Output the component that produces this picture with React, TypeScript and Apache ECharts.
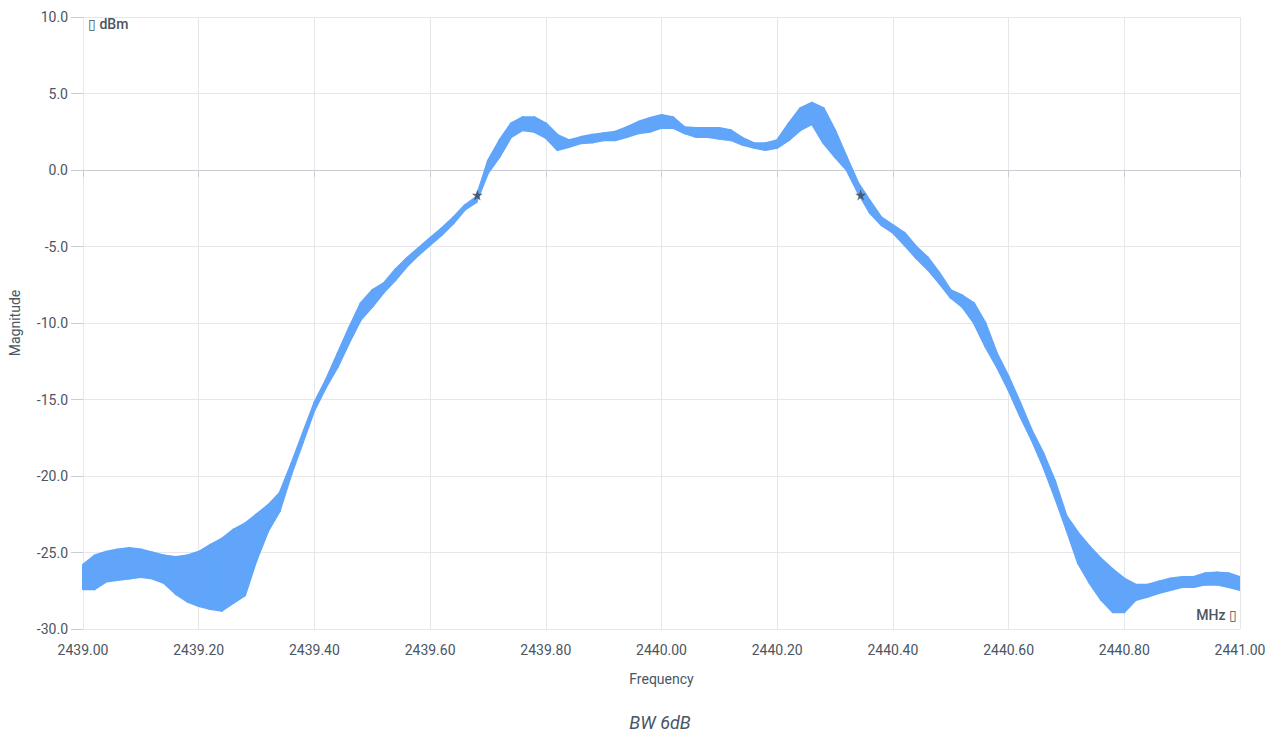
import React, { useEffect, useRef } from "react";
import * as echarts from "echarts";

// Frequency samples (MHz)
const freqs: number[] = [
  2439.0, 2439.02, 2439.04, 2439.06, 2439.08, 2439.1, 2439.12, 2439.14, 2439.16, 2439.18,
  2439.2, 2439.22, 2439.24, 2439.26, 2439.28, 2439.3, 2439.32, 2439.34, 2439.36, 2439.38,
  2439.4, 2439.42, 2439.44, 2439.46, 2439.48, 2439.5, 2439.52, 2439.54, 2439.56, 2439.58,
  2439.6, 2439.62, 2439.64, 2439.66, 2439.68, 2439.7, 2439.72, 2439.74, 2439.76, 2439.78,
  2439.8, 2439.82, 2439.84, 2439.86, 2439.88, 2439.9, 2439.92, 2439.94, 2439.96, 2439.98,
  2440.0, 2440.02, 2440.04, 2440.06, 2440.08, 2440.1, 2440.12, 2440.14, 2440.16, 2440.18,
  2440.2, 2440.22, 2440.24, 2440.26, 2440.28, 2440.3, 2440.32, 2440.34, 2440.36, 2440.38,
  2440.4, 2440.42, 2440.44, 2440.46, 2440.48, 2440.5, 2440.52, 2440.54, 2440.56, 2440.58,
  2440.6, 2440.62, 2440.64, 2440.66, 2440.68, 2440.7, 2440.72, 2440.74, 2440.76, 2440.78,
  2440.8, 2440.82, 2440.84, 2440.86, 2440.88, 2440.9, 2440.92, 2440.94, 2440.96, 2440.98,
  2441.0,
];

// Upper envelope of the measured trace (dBm)
const upper: number[] = [
  -25.8, -25.2, -24.95, -24.8, -24.7, -24.8, -25.0, -25.2, -25.3, -25.2,
  -24.95, -24.5, -24.1, -23.5, -23.1, -22.5, -21.9, -21.1, -19.2, -17.2,
  -15.2, -13.7, -12.0, -10.3, -8.7, -7.85, -7.4, -6.5, -5.75, -5.1,
  -4.45, -3.8, -3.1, -2.3, -1.75, 0.6, 1.95, 3.05, 3.45, 3.45,
  3.05, 2.3, 1.95, 2.15, 2.3, 2.4, 2.5, 2.8, 3.15, 3.4,
  3.6, 3.45, 2.8, 2.75, 2.75, 2.75, 2.6, 2.1, 1.75, 1.75,
  1.95, 3.05, 4.05, 4.4, 4.05, 2.6, 0.85, -0.85, -2.0, -3.1,
  -3.6, -4.1, -5.0, -5.7, -6.7, -7.85, -8.2, -8.7, -10.0, -12.0,
  -13.5, -15.2, -17.0, -18.5, -20.3, -22.6, -23.7, -24.6, -25.4, -26.1,
  -26.7, -27.1, -27.1, -26.9, -26.7, -26.6, -26.6, -26.35, -26.3, -26.35,
  -26.6,
];

// Lower envelope of the measured trace (dBm)
const lower: number[] = [
  -27.4, -27.4, -26.9, -26.8, -26.7, -26.6, -26.7, -27.0, -27.7, -28.2,
  -28.5, -28.7, -28.8, -28.3, -27.8, -25.5, -23.6, -22.3, -19.9, -17.8,
  -15.7, -14.2, -12.9, -11.3, -9.8, -8.95, -8.0, -7.2, -6.3, -5.55,
  -4.9, -4.25, -3.5, -2.6, -2.1, -0.2, 0.85, 2.15, 2.6, 2.5,
  2.1, 1.3, 1.5, 1.75, 1.8, 1.95, 1.95, 2.15, 2.4, 2.5,
  2.75, 2.75, 2.4, 2.15, 2.15, 2.05, 1.95, 1.65, 1.45, 1.3,
  1.45, 1.95, 2.6, 3.0, 1.75, 0.85, 0.0, -1.5, -2.8, -3.6,
  -4.1, -4.9, -5.75, -6.5, -7.4, -8.35, -8.95, -10.0, -11.55, -12.9,
  -14.4, -16.1, -17.65, -19.4, -21.4, -23.5, -25.7, -27.0, -28.1, -28.9,
  -28.9, -28.1, -27.9, -27.65, -27.45, -27.25, -27.25, -27.1, -27.1, -27.25,
  -27.45,
];

// -6 dB bandwidth markers
const markerFreqs: number[] = [2439.6816, 2440.3443];
const markerLevels: number[] = [-1.63, -1.63];

const yMin = -30;
const yMax = 10;
const yStep = 5;
const xMin = 2439;
const xMax = 2441;
const xStep = 0.2;

const BLUE = "#60a5fa";
const TEXT = "#4b5563";
const FONT = "Roboto";
const STAR =
  "path://M50,0 L61,35 L98,35 L68,57 L79,91 L50,70 L21,91 L32,57 L2,35 L39,35 Z";

export default function App() {
  const ref = useRef<HTMLDivElement>(null);

  useEffect(() => {
    document.body.style.margin = "0";
    if (!ref.current) return;
    const chart = echarts.init(ref.current, undefined, { renderer: "svg" });

    const bandData = freqs.map((f, i) => [f, lower[i], upper[i]]);
    const markers = markerFreqs.map((f, i) => [f, markerLevels[i]]);

    chart.setOption({
      animation: false,
      textStyle: { fontFamily: FONT },
      grid: { left: 81, right: 37, top: 17, bottom: 106, containLabel: false },
      xAxis: {
        type: "value",
        min: xMin,
        max: xMax,
        interval: xStep,
        name: "Frequency",
        nameLocation: "middle",
        nameGap: 43,
        nameTextStyle: { color: TEXT, fontSize: 14, fontFamily: FONT },
        axisLine: { show: true, lineStyle: { color: "#c9cdd4", width: 1 } },
        axisTick: { show: true, length: 7, lineStyle: { color: "#c9cdd4" } },
        axisLabel: {
          color: TEXT,
          fontSize: 14,
          fontFamily: FONT,
          margin: 14,
          formatter: (v: number) => v.toFixed(2),
        },
        splitLine: { show: true, lineStyle: { color: "#e5e7eb", width: 1 } },
      },
      yAxis: {
        type: "value",
        min: yMin,
        max: yMax,
        interval: yStep,
        name: "Magnitude",
        nameLocation: "middle",
        nameGap: 61,
        nameRotate: 90,
        nameTextStyle: { color: TEXT, fontSize: 14, fontFamily: FONT },
        axisLine: { show: true, lineStyle: { color: "#e5e7eb", width: 1 } },
        axisTick: { show: true, length: 12, lineStyle: { color: "#c9cdd4" } },
        axisLabel: {
          color: TEXT,
          fontSize: 14,
          fontFamily: FONT,
          margin: 15,
          formatter: (v: number) => v.toFixed(1),
        },
        splitLine: { show: true, lineStyle: { color: "#e5e7eb", width: 1 } },
      },
      series: [
        {
          type: "custom",
          name: "trace",
          data: bandData,
          encode: { x: 0, y: [1, 2] },
          clip: true,
          renderItem: (params: any, api: any) => {
            const i = params.dataIndex;
            if (i >= freqs.length - 1) return null;
            const p1 = api.coord([freqs[i], upper[i]]);
            const p2 = api.coord([freqs[i + 1], upper[i + 1]]);
            const p3 = api.coord([freqs[i + 1], lower[i + 1]]);
            const p4 = api.coord([freqs[i], lower[i]]);
            return {
              type: "polygon",
              shape: { points: [p1, p2, p3, p4] },
              style: {
                fill: BLUE,
                stroke: BLUE,
                lineWidth: 2,
                lineJoin: "round",
              },
            };
          },
          z: 2,
        },
        {
          type: "scatter",
          name: "markers",
          data: markers,
          symbol: STAR,
          symbolSize: 11,
          itemStyle: { color: "#3f4654" },
          z: 5,
        },
      ],
      graphic: [
        {
          type: "text",
          left: 88,
          top: 17,
          style: {
            text: "\u25AF dBm",
            fill: TEXT,
            font: `500 14px ${FONT}`,
          },
        },
        {
          type: "text",
          right: 40,
          top: 608,
          style: {
            text: "MHz \u25AF",
            fill: TEXT,
            font: `500 14px ${FONT}`,
          },
        },
        {
          type: "text",
          x: 660,
          y: 713,
          style: {
            text: "BW 6dB",
            fill: "#475569",
            font: `italic 18px ${FONT}`,
            textAlign: "center",
          },
        },
      ],
    });

    return () => chart.dispose();
  }, []);

  return <div ref={ref} style={{ width: 1277, height: 735 }} />;
}
